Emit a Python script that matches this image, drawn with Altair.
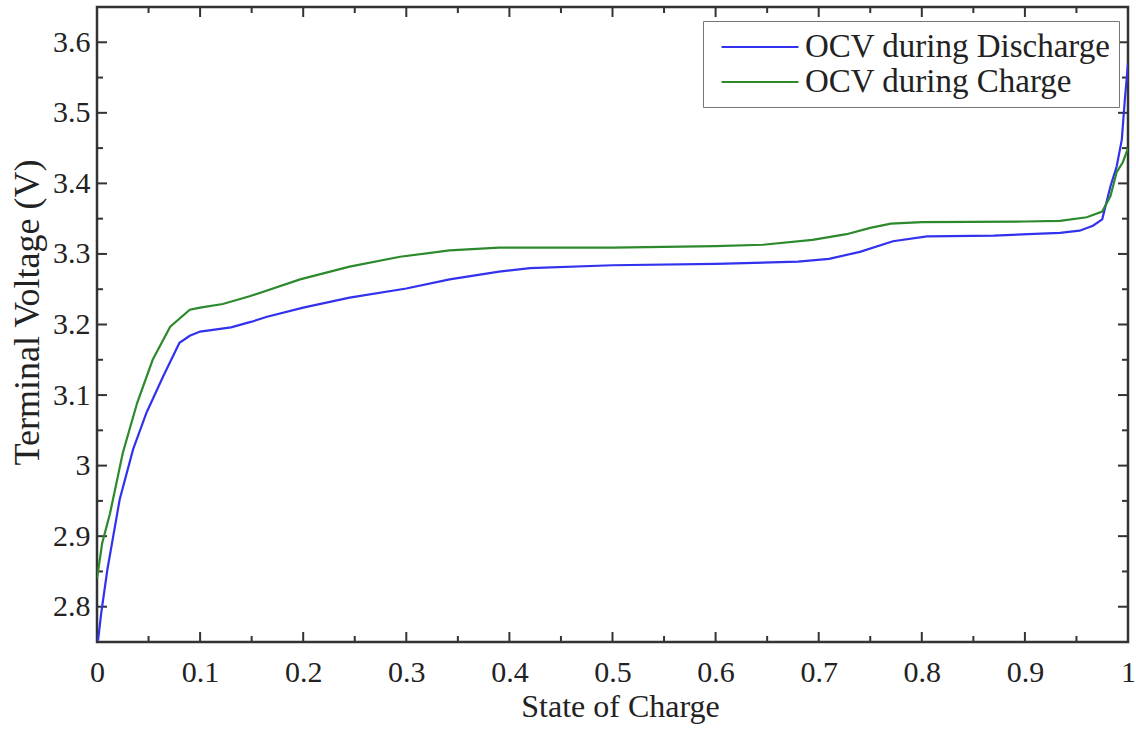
import altair as alt
import pandas as pd

# ---- data ----
dis_soc = [0.001, 0.004, 0.01, 0.022, 0.035, 0.048, 0.064, 0.08, 0.09, 0.1, 0.13, 0.15,
           0.165, 0.2, 0.245, 0.3, 0.342, 0.39, 0.42, 0.5, 0.6, 0.68, 0.71, 0.74, 0.772,
           0.805, 0.87, 0.934, 0.953, 0.966, 0.975, 0.983, 0.989, 0.994, 0.997, 1.0]
dis_v = [2.752, 2.79, 2.852, 2.952, 3.023, 3.075, 3.126, 3.174, 3.184, 3.190, 3.196, 3.204,
         3.211, 3.224, 3.238, 3.251, 3.264, 3.275, 3.280, 3.284, 3.286, 3.289, 3.293, 3.303,
         3.318, 3.325, 3.326, 3.330, 3.333, 3.340, 3.349, 3.396, 3.424, 3.462, 3.52, 3.57]

chg_soc = [0.0, 0.005, 0.0126, 0.025, 0.039, 0.054, 0.071, 0.09, 0.1, 0.122, 0.148, 0.197,
           0.245, 0.294, 0.342, 0.39, 0.5, 0.6, 0.646, 0.694, 0.727, 0.75, 0.77, 0.8, 0.9,
           0.934, 0.96, 0.975, 0.983, 0.989, 0.995, 1.0]
chg_v = [2.84, 2.89, 2.932, 3.018, 3.089, 3.150, 3.197, 3.221, 3.224, 3.229, 3.240, 3.264,
         3.282, 3.296, 3.305, 3.309, 3.309, 3.311, 3.313, 3.320, 3.328, 3.337, 3.343, 3.345,
         3.346, 3.347, 3.352, 3.360, 3.382, 3.416, 3.43, 3.45]

series_names = ["OCV during Discharge", "OCV during Charge"]
series_colors = ["#3232ee", "#2c8a2c"]

x_major = [0, 0.1, 0.2, 0.3, 0.4, 0.5, 0.6, 0.7, 0.8, 0.9, 1.0]
x_minor = [0.05, 0.15, 0.25, 0.35, 0.45, 0.55, 0.65, 0.75, 0.85, 0.95]
y_major = [2.8, 2.9, 3.0, 3.1, 3.2, 3.3, 3.4, 3.5, 3.6]
y_minor = [2.85, 2.95, 3.05, 3.15, 3.25, 3.35, 3.45, 3.55]

# ---- layout ----
W, H = 1031, 635
FONT = "Liberation Serif"
TXT = "#222222"
AX = "#333333"

df = pd.concat([
    pd.DataFrame({"soc": dis_soc, "v": dis_v, "series": series_names[0]}),
    pd.DataFrame({"soc": chg_soc, "v": chg_v, "series": series_names[1]}),
])

xscale = alt.Scale(domain=[0, 1], nice=False, zero=False)
yscale = alt.Scale(domain=[2.75, 3.65], nice=False, zero=False)

label_expr = "datum.value == 1 ? '1' : datum.value == 0 ? '0' : format(datum.value, '.1f')"
ylabel_expr = "datum.value == 3 ? '3' : format(datum.value, '.1f')"

xaxis = alt.Axis(values=x_major, labelExpr=label_expr, ticks=False, tickSize=0, domain=False,
                 grid=False, labelFont=FONT, labelFontSize=30, labelColor=TXT, labelPadding=15,
                 title="State of Charge", titleFont=FONT, titleFontSize=32, titleFontWeight="normal",
                 titleColor=TXT, titleX=523, titleY=64, titleBaseline="middle", titleAlign="center",
                 labelFlush=False)
yaxis = alt.Axis(values=y_major, labelExpr=ylabel_expr, ticks=False, tickSize=0, domain=False,
                 grid=False, labelFont=FONT, labelFontSize=30, labelColor=TXT, labelPadding=7,
                 title="Terminal Voltage (V)", titleFont=FONT, titleFontSize=36,
                 titleFontWeight="normal", titleColor=TXT, titleX=-70, titleY=305,
                 titleAngle=270, titleBaseline="middle", titleAlign="center", labelFlush=False)

lines = alt.Chart(df).mark_line(strokeWidth=2.2, clip=True).encode(
    x=alt.X("soc:Q", scale=xscale, axis=xaxis),
    y=alt.Y("v:Q", scale=yscale, axis=yaxis),
    color=alt.Color("series:N", scale=alt.Scale(domain=series_names, range=series_colors),
                    sort=series_names,
                    legend=alt.Legend(title=None, orient="none", legendX=606, legendY=14,
                                      symbolType="M-2.33,0H2.33", symbolSize=1089,
                                      symbolStrokeWidth=2.2, symbolOffset=31, labelOffset=27,
                                      labelFont=FONT, labelFontSize=33, labelColor=TXT,
                                      padding=8, rowPadding=0, strokeColor="#777777",
                                      fillColor="white", labelLimit=600)),
)


def xticks(vals, length):
    d = pd.DataFrame({"soc": vals})
    bottom = alt.Chart(d).mark_rule(color=AX, strokeWidth=2).encode(
        x=alt.X("soc:Q", scale=xscale), y=alt.value(H), y2=alt.value(H - length))
    top = alt.Chart(d).mark_rule(color=AX, strokeWidth=2).encode(
        x=alt.X("soc:Q", scale=xscale), y=alt.value(0), y2=alt.value(length))
    return [bottom, top]


def yticks(vals, length):
    d = pd.DataFrame({"v": vals})
    left = alt.Chart(d).mark_rule(color=AX, strokeWidth=2).encode(
        y=alt.Y("v:Q", scale=yscale), x=alt.value(0), x2=alt.value(length))
    right = alt.Chart(d).mark_rule(color=AX, strokeWidth=2).encode(
        y=alt.Y("v:Q", scale=yscale), x=alt.value(W), x2=alt.value(W - length))
    return [left, right]


layers = xticks(x_major, 10) + xticks(x_minor, 6) + yticks(y_major, 10) + yticks(y_minor, 6) + [lines]

chart = alt.layer(*layers).properties(
    width=W, height=H,
    autosize=alt.AutoSizeParams(type="none"),
    padding={"left": 97, "top": 7, "right": 8, "bottom": 87},
    background="white",
).configure_view(stroke=AX, strokeWidth=2.5)

chart.save("out.html", embed_options={"renderer": "svg", "actions": False})
